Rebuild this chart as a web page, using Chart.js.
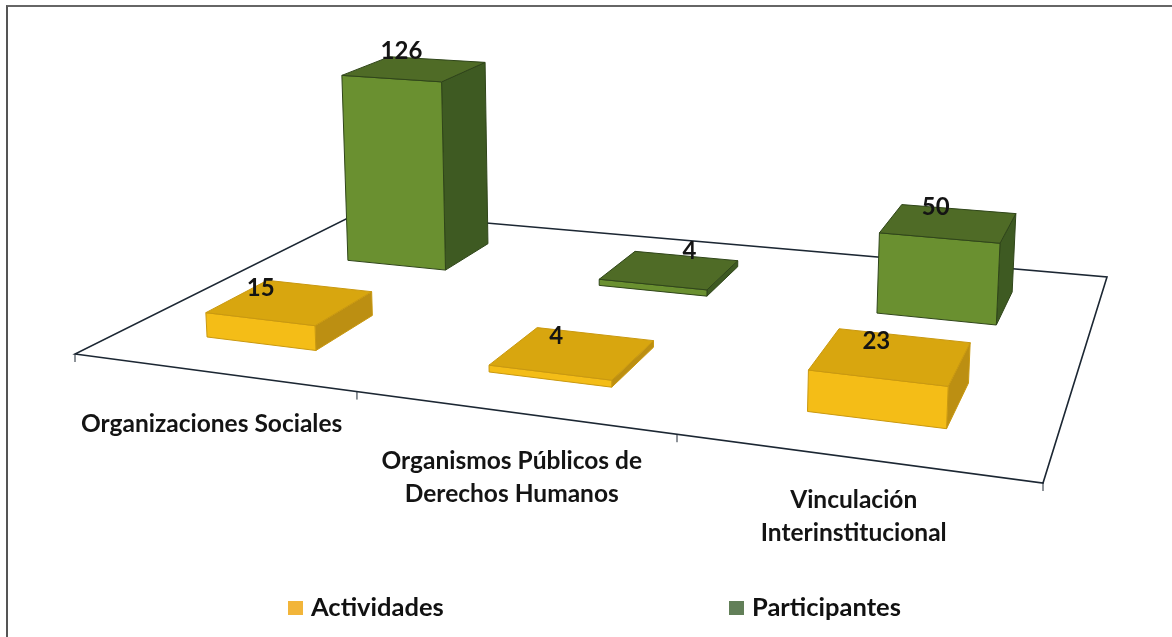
<!DOCTYPE html>
<html>
<head>
<meta charset="utf-8">
<script src="https://cdn.jsdelivr.net/npm/chart.js@4"></script>
<style>
  html, body { margin: 0; padding: 0; background: #fff; overflow: hidden; }
  #wrap { position: relative; width: 1172px; height: 637px; }
  #frame { position: absolute; left: 6px; top: 5px; right: 0; bottom: 0; border-left: 2px solid #555; border-top: 2px solid #666; box-sizing: border-box; }
  canvas { position: absolute; left: 0; top: 0; }
</style>
</head>
<body>
<div id="wrap">
  <div id="frame"></div>
  <canvas id="chart" width="1172" height="637"></canvas>
</div>
<script>
const categories = ['Organizaciones Sociales', ['Organismos Públicos de', 'Derechos Humanos'], ['Vinculación', 'Interinstitucional']];
const actividades = [15, 4, 23];
const participantes = [126, 4, 50];

// floor of the 3d plot on the page: front left, front right, back right, back left
const floor = [[75, 354], [1043, 483], [1107, 277], [360, 212]];

// perspective map from (u, v) on the floor to the page
function makeProjection(p) {
    const [p0, p1, p2, p3] = p;
    const dx1 = p1[0] - p2[0], dx2 = p3[0] - p2[0], sx = p0[0] - p1[0] + p2[0] - p3[0];
    const dy1 = p1[1] - p2[1], dy2 = p3[1] - p2[1], sy = p0[1] - p1[1] + p2[1] - p3[1];
    const det = dx1 * dy2 - dx2 * dy1;
    const g = (sx * dy2 - dx2 * sy) / det;
    const h = (dx1 * sy - sx * dy1) / det;
    const a = p1[0] - p0[0] + g * p1[0], b = p3[0] - p0[0] + h * p3[0];
    const d = p1[1] - p0[1] + g * p1[1], e = p3[1] - p0[1] + h * p3[1];
    return function (u, v) {
        // the scan squeezes the spacing a little less than the corners suggest
        const s = u + 0.042 * u * (1 - u);
        const w = 1 + g * s + h * v;
        return { x: (p0[0] + a * s + b * v) / w, y: (p0[1] + d * s + e * v) / w, w: w };
    };
}
const project = makeProjection(floor);

const fontName = 'Lato, Carlito, sans-serif';
const faces = [
    { front: '#f4bd17', top: '#d8a60f', side: '#bc8f12', edge: '#c9980f' },
    { front: '#6a9030', top: '#4f6b26', side: '#3e5a22', edge: '#2f4519' }
];
const barShare = 0.4;
// where each value label sits relative to the middle of its box top
const labelShift = [[[-28, -14], [-15, -17], [-13, -15]], [[-12, -18], [21, -19], [-12, -16]]];
const categoryDrop = [52, 49, 42];

function face(ctx, pts, fill, edge) {
    ctx.beginPath();
    pts.forEach((p, i) => i ? ctx.lineTo(p.x, p.y) : ctx.moveTo(p.x, p.y));
    ctx.closePath();
    ctx.fillStyle = fill;
    ctx.fill();
    ctx.strokeStyle = edge;
    ctx.lineWidth = 1;
    ctx.stroke();
}

// the top of a box leans slightly away from the middle of the page
function raise(p, height) {
    const h = height / Math.pow(p.w, 0.7);
    return { x: p.x + (p.x - 620) * h * 0.00012, y: p.y - h };
}

const plot3d = {
    id: 'plot3d',
    // bars are positioned by chart.js, this only stops the flat drawing
    beforeDatasetsDraw() { return false; },
    afterDraw(chart) {
        const ctx = chart.ctx, area = chart.chartArea;
        const n = chart.data.datasets.length;
        const cats = chart.data.labels.length;
        const uOf = px => (px - area.left) / area.width;

        // floor
        ctx.save();
        ctx.strokeStyle = '#1c2733';
        ctx.lineWidth = 1.6;
        ctx.beginPath();
        floor.forEach((p, i) => i ? ctx.lineTo(p[0], p[1]) : ctx.moveTo(p[0], p[1]));
        ctx.closePath();
        ctx.stroke();
        ctx.lineWidth = 1;
        for (let k = 0; k <= cats; k++) {
            const t = project(k / cats, 0);
            ctx.beginPath();
            ctx.moveTo(t.x, t.y);
            ctx.lineTo(t.x, t.y + 8);
            ctx.stroke();
        }

        // boxes, back row first
        const tops = [];
        for (let i = n - 1; i >= 0; i--) {
            const vMid = (i + 0.5) / n;
            const vHalf = barShare / n / 2;
            chart.getDatasetMeta(i).data.forEach((bar, j) => {
                const u0 = uOf(bar.x - bar.width / 2), u1 = uOf(bar.x + bar.width / 2);
                const height = bar.base - bar.y;
                const fl = project(u0, vMid - vHalf), fr = project(u1, vMid - vHalf);
                const br = project(u1, vMid + vHalf), bl = project(u0, vMid + vHalf);
                const tfl = raise(fl, height), tfr = raise(fr, height);
                const tbr = raise(br, height), tbl = raise(bl, height);
                const c = faces[i];
                face(ctx, [fr, br, tbr, tfr], c.side, c.edge);
                face(ctx, [fl, fr, tfr, tfl], c.front, c.edge);
                face(ctx, [tfl, tfr, tbr, tbl], c.top, c.edge);
                tops.push({
                    x: (tfl.x + tbr.x) / 2 + labelShift[i][j][0],
                    y: (tfl.y + tbr.y) / 2 + labelShift[i][j][1],
                    text: String(chart.data.datasets[i].data[j])
                });
            });
        }

        // value labels
        ctx.fillStyle = '#141414';
        ctx.font = 'bold 24px ' + fontName;
        ctx.textAlign = 'center';
        ctx.textBaseline = 'middle';
        tops.forEach(t => ctx.fillText(t.text, t.x, t.y));

        // category labels under the front edge
        ctx.font = 'bold 24.5px ' + fontName;
        chart.data.labels.forEach((label, k) => {
            const at = project((k + 0.5) / cats, 0);
            [].concat(label).forEach((line, l) => ctx.fillText(line, at.x, at.y + categoryDrop[k] + l * 33));
        });

        // legend
        ctx.font = 'bold 25.5px ' + fontName;
        ctx.textAlign = 'left';
        const legendX = [288, 729];
        chart.data.datasets.forEach((ds, i) => {
            ctx.fillStyle = ds.backgroundColor;
            ctx.fillRect(legendX[i], 601, 15, 14);
            ctx.fillStyle = '#111';
            ctx.fillText(ds.label, legendX[i] + 23, 608);
        });
        ctx.restore();
    }
};

new Chart(document.getElementById('chart'), {
    type: 'bar',
    data: {
        labels: categories,
        datasets: [
            { label: 'Actividades', data: actividades, backgroundColor: '#f2b53a' },
            { label: 'Participantes', data: participantes, backgroundColor: '#627f58' }
        ]
    },
    options: {
        responsive: false,
        animation: false,
        grouped: false,
        barPercentage: barShare,
        categoryPercentage: 1,
        plugins: { legend: { display: false }, tooltip: { enabled: false } },
        scales: {
            x: { display: false },
            y: { display: false, min: 0, max: 386 }
        }
    },
    plugins: [plot3d]
});
</script>
</body>
</html>
